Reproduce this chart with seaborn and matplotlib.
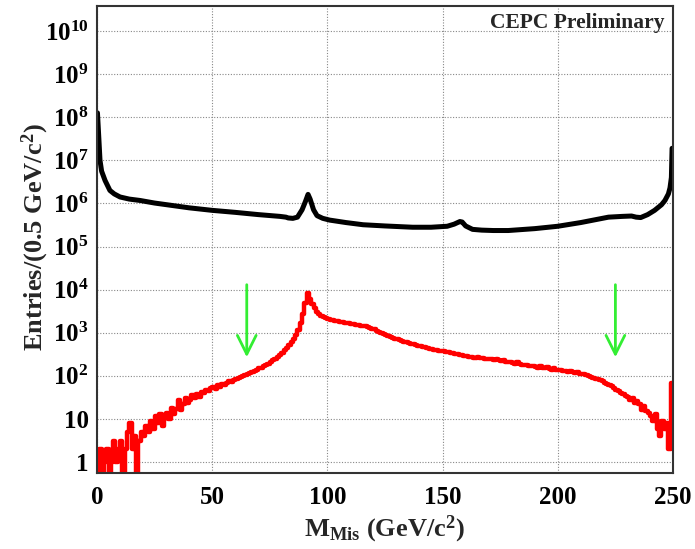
import matplotlib
matplotlib.use("Agg")
import matplotlib.pyplot as plt
import matplotlib.ticker as mticker
import numpy as np
import pandas as pd
import seaborn as sns

# background (black): missing mass [GeV] -> entries / 0.5 GeV
bkg_mass = [0.2, 0.8, 1.3, 2.0, 3.5, 5.6, 7.5, 10, 14, 18.7,
            25, 33, 40, 50, 60, 70, 79.4, 82, 83, 85,
            87, 89, 90.5, 91.6, 92.5, 94, 95.5, 98, 101, 108,
            115.5, 125, 137, 145, 152, 155, 157.5, 158.5, 160, 163,
            167, 172, 178.5, 190, 200, 210, 222, 228, 232, 234,
            236, 239, 242, 245, 246.5, 248, 248.7, 249.3, 249.6]
bkg_entries = [1.26e8, 3.2e7, 1.0e7, 5.6e6, 3.4e6, 2.0e6, 1.66e6, 1.41e6, 1.26e6, 1.17e6,
               1.02e6, 8.9e5, 7.9e5, 6.9e5, 6.2e5, 5.5e5, 5.0e5, 4.8e5, 4.6e5, 4.5e5,
               4.8e5, 7.1e5, 1.12e6, 1.62e6, 1.26e6, 7.1e5, 5.2e5, 4.5e5, 4.1e5, 3.6e5,
               3.2e5, 3.0e5, 2.8e5, 2.8e5, 2.95e5, 3.3e5, 3.8e5, 3.7e5, 3.0e5, 2.5e5,
               2.4e5, 2.35e5, 2.35e5, 2.6e5, 2.95e5, 3.6e5, 4.8e5, 5.0e5, 5.1e5, 4.8e5,
               4.7e5, 5.5e5, 6.9e5, 9.3e5, 1.17e6, 1.66e6, 2.3e6, 4.0e6, 1.9e7]

# signal (red), one value per 1 GeV bin from 0 to 250 (0.3 = empty bin, below the frame)
sig_entries = [
    0.3, 2, 0.3, 1, 2, 0.3, 1, 3, 1, 2,
    3, 0.3, 2, 5, 8, 2, 4, 0.3, 3, 5,
    4, 7, 5, 9, 6, 12, 8, 13, 7, 11,
    14, 10, 18, 13, 17, 28, 16, 22, 30, 24,
    27, 35, 30, 38, 33, 42, 40, 46, 44, 52,
    55, 50, 60, 56, 64, 62, 70, 74, 72, 80,
    84, 88, 94, 98, 104, 112, 118, 124, 132, 140,
    148, 156, 166, 178, 192, 210, 228, 250, 275, 300,
    340, 390, 450, 530, 620, 720, 880, 1150, 1700, 2700,
    4800, 8500, 6000, 4600, 3700, 3100, 2750, 2500, 2300, 2150,
    2050, 1980, 1930, 1890, 1850, 1800, 1760, 1720, 1680, 1640,
    1600, 1560, 1530, 1500, 1460, 1430, 1400, 1360, 1310, 1250,
    1190, 1120, 1060, 1000, 950, 900, 860, 810, 770, 730,
    700, 670, 645, 620, 595, 575, 555, 535, 515, 500,
    485, 470, 455, 445, 430, 418, 405, 395, 385, 378,
    370, 360, 350, 340, 330, 322, 314, 305, 298, 290,
    284, 278, 272, 266, 262, 270, 255, 262, 250, 244,
    252, 240, 236, 245, 228, 222, 230, 214, 208, 215,
    200, 192, 205, 188, 180, 176, 182, 170, 165, 172,
    160, 156, 165, 150, 148, 158, 145, 140, 150, 136,
    135, 138, 130, 132, 126, 128, 122, 118, 120, 112,
    108, 110, 102, 98, 95, 90, 86, 84, 78, 74,
    68, 66, 60, 58, 52, 48, 45, 40, 38, 34,
    33, 28, 30, 24, 26, 22, 16, 20, 15, 14,
    12, 9, 13, 6, 4, 9, 6, 8, 2, 70,
]

cut_values = [65, 225]  # green arrows

bkg = pd.DataFrame({"mass": bkg_mass, "entries": bkg_entries})
sig = pd.DataFrame({"mass": np.arange(len(sig_entries)) + 0.5, "entries": sig_entries})

sns.set_theme(style="white")
plt.rcParams["font.family"] = ["Liberation Serif", "DejaVu Serif"]
plt.rcParams["font.weight"] = "bold"
plt.rcParams["mathtext.fontset"] = "custom"
plt.rcParams["mathtext.rm"] = "Liberation Serif:bold"
plt.rcParams["mathtext.it"] = "Liberation Serif:bold"
plt.rcParams["mathtext.bf"] = "Liberation Serif:bold"
plt.rcParams["mathtext.default"] = "rm"

fig = plt.figure(figsize=(6.95, 5.49), dpi=100)
ax = fig.add_axes([97 / 695, 1 - 473 / 549, 576 / 695, 467 / 549])

sns.lineplot(data=bkg, x="mass", y="entries", color="black", linewidth=3.6, ax=ax)
sns.histplot(data=sig, x="mass", weights="entries", binwidth=1, binrange=(0, 250),
             element="step", fill=False, color="#ff0000", linewidth=3.2, ax=ax)

ax.set_yscale("log")
ax.set_xlim(0, 250)
ax.set_ylim(0.557, 3.8e10)

for c in cut_values:
    ax.annotate("", xy=(c, 270), xytext=(c, 1.3e4),
                arrowprops=dict(arrowstyle="->,head_length=0.9,head_width=0.45",
                                color="#33ee33", lw=2, mutation_scale=15,
                                shrinkA=0, shrinkB=0))

# ticks and grid, ROOT style
ax.xaxis.set_major_locator(mticker.MultipleLocator(50))
ax.xaxis.set_minor_locator(mticker.MultipleLocator(25))
ax.yaxis.set_major_locator(mticker.LogLocator(base=10, numticks=15))
ax.yaxis.set_minor_locator(mticker.LogLocator(base=10, subs=np.arange(2, 10), numticks=15))


def ylab(v, pos):
    if v < 0.5 or v > 5e10:
        return ""
    if v < 5:
        return "1"
    if v < 50:
        return "10"
    return r"$10^{%d}$" % round(np.log10(v))


ax.yaxis.set_major_formatter(mticker.FuncFormatter(ylab))
ax.yaxis.set_minor_formatter(mticker.NullFormatter())
ax.tick_params(axis="both", which="both", direction="in", colors="#222222",
               labelcolor="black", labelsize=18, top=False, right=False)
ax.tick_params(axis="y", which="major", length=14, width=1.2, pad=6)
ax.tick_params(axis="y", which="minor", length=7, width=1.0)
ax.tick_params(axis="x", which="major", length=12, width=1.2, pad=9)
ax.tick_params(axis="x", which="minor", length=6, width=1.0)
ax.grid(True, which="major", color="#888888", linestyle=(0, (1, 1.5)), linewidth=0.8)
ax.set_axisbelow(True)
for s in ax.spines.values():
    s.set_color("#333333")
    s.set_linewidth(1.5)

ax.set_xlabel("")
ax.set_ylabel("")
fig.text(384 / 695, 1 - 529 / 549, r"M$_{\mathrm{Mis}}$ (GeV/c$^{2}$)",
         ha="center", va="center", fontsize=19, fontweight="bold")
fig.text(35 / 695, 1 - 237 / 549, r"Entries/(0.5 GeV/c$^{2}$)",
         ha="center", va="center", rotation=90, fontsize=19, fontweight="bold")
ax.text(0.986, 0.985, "CEPC Preliminary", transform=ax.transAxes,
        ha="right", va="top", fontsize=15.5, fontweight="bold")

fig.savefig("out.png", dpi=100)
